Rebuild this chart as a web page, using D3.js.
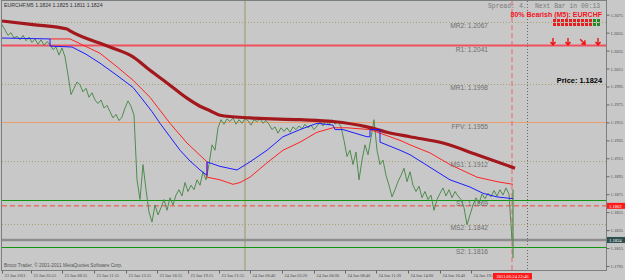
<!DOCTYPE html>
<html>
<head>
<meta charset="utf-8">
<script src="https://cdn.jsdelivr.net/npm/d3@7"></script>
<style>
  body { margin: 0; background: #c8c8c8; }
  svg { display: block; font-family: "Liberation Sans", Arial, sans-serif; }
</style>
</head>
<body>
<div id="chart-area"></div>
<script>
// EURCHF M5 closes, one value every 3 bars (bar 0 .. bar 510)
const closeStep = 3
const closes = [
  1.2064, 1.2058, 1.2052, 1.2055, 1.2049, 1.2051, 1.2047, 1.2052, 1.2046, 1.2050,
  1.2044, 1.2048, 1.2042, 1.2047, 1.2041, 1.2045, 1.2042, 1.2036, 1.2039, 1.2030,
  1.2038, 1.2028, 1.2008, 1.1986, 1.1993, 1.2000, 1.1997, 1.1989, 1.1993, 1.1983,
  1.1988, 1.1980, 1.1976, 1.1980, 1.1971, 1.1974, 1.1967, 1.1960, 1.1964, 1.1957,
  1.1961, 1.1971, 1.1979, 1.1973, 1.1963, 1.1891, 1.1869, 1.1908, 1.1880, 1.1855,
  1.1844, 1.1863, 1.1852, 1.1860, 1.1869, 1.1857, 1.1871, 1.1863, 1.1874, 1.1880,
  1.1873, 1.1888, 1.1878, 1.1885, 1.1880, 1.1891, 1.1885, 1.1900, 1.1891, 1.1908,
  1.1930, 1.1924, 1.1949, 1.1958, 1.1953, 1.1959, 1.1956, 1.1960, 1.1953, 1.1958,
  1.1954, 1.1959, 1.1957, 1.1952, 1.1958, 1.1956, 1.1959, 1.1954, 1.1957, 1.1953,
  1.1947, 1.1950, 1.1943, 1.1949, 1.1945, 1.1949, 1.1944, 1.1950, 1.1947, 1.1951,
  1.1948, 1.1953, 1.1949, 1.1952, 1.1947, 1.1951, 1.1956, 1.1951, 1.1957, 1.1952,
  1.1958, 1.1953, 1.1956, 1.1950, 1.1935, 1.1917, 1.1924, 1.1908, 1.1922, 1.1891,
  1.1913, 1.1930, 1.1919, 1.1938, 1.1958, 1.1924, 1.1908, 1.1913, 1.1896, 1.1885,
  1.1872, 1.1880, 1.1889, 1.1896, 1.1904, 1.1889, 1.1900, 1.1885, 1.1878, 1.1884,
  1.1871, 1.1878, 1.1869, 1.1874, 1.1857, 1.1869, 1.1876, 1.1882, 1.1873, 1.1880,
  1.1871, 1.1878, 1.1873, 1.1869, 1.1860, 1.1841, 1.1852, 1.1863, 1.1871, 1.1865,
  1.1875, 1.1870, 1.1876, 1.1872, 1.1879, 1.1873, 1.1880, 1.1874, 1.1882, 1.1875,
  1.1824
]
// live bar: high, low
const lastBarRange = [1.1880, 1.1804]

// moving averages (bar index + value)
const fastBars = [0, 48, 48, 70, 84, 98, 113, 131, 141, 150, 158, 168, 178, 188, 198, 205, 205, 218, 235, 248,
  265, 281, 298, 315, 331, 333, 341, 365, 368, 368, 378, 378, 398, 408, 428, 448, 468, 481, 495, 511]
const fastVals = [1.2049, 1.2048, 1.2040, 1.2039, 1.2031, 1.2021, 1.2009, 1.1994, 1.1980, 1.1967,
  1.1954, 1.1939, 1.1924, 1.1912, 1.1902, 1.1896, 1.1911, 1.1906, 1.1902, 1.1911,
  1.1924, 1.1939, 1.1947, 1.1954, 1.1952, 1.1947, 1.1947, 1.1939, 1.1939, 1.1947,
  1.1947, 1.1933, 1.1924, 1.1919, 1.1905, 1.1891, 1.1883, 1.1876, 1.1872, 1.1870]

const midBars = [48, 68, 85, 98, 115, 131, 148, 168, 185, 205, 205, 218, 231, 238, 248, 265, 281, 298, 315, 331,
  345, 368, 378, 398, 408, 428, 448, 475, 495, 511]
const midVals = [1.2048, 1.2048, 1.2039, 1.2032, 1.2017, 1.2002, 1.1983, 1.1954, 1.1932, 1.1911,
  1.1894, 1.1891, 1.1886, 1.1888, 1.1894, 1.1910, 1.1924, 1.1933, 1.1944, 1.1949,
  1.1949, 1.1947, 1.1943, 1.1935, 1.1930, 1.1921, 1.1908, 1.1894, 1.1889, 1.1886]

const slowBars = [0, 31, 65, 68, 108, 131, 148, 165, 185, 198, 208, 218, 248, 298, 331, 365, 385, 408, 441, 475, 513]
const slowVals = [1.2068, 1.2064, 1.2059, 1.2057, 1.2039, 1.2028, 1.2013, 1.1999, 1.1982, 1.1973,
  1.1968, 1.1963, 1.1960, 1.1958, 1.1956, 1.1950, 1.1944, 1.1939, 1.1932, 1.1919, 1.1904]

// pivot levels
const pivotNames = ["MR2", "R1", "MR1", "FPV", "MS1", "S1", "MS2", "S2"]
const pivotVals = [1.2067, 1.2041, 1.1998, 1.1955, 1.1912, 1.1869, 1.1842, 1.1816]
const pivotKinds = ["mid", "res", "mid", "pivot", "mid", "sup", "mid", "sup"]

// axes
const priceTicks = [1.2075, 1.2055, 1.2035, 1.2015, 1.1995, 1.1975, 1.1955, 1.1935,
  1.1915, 1.1895, 1.1875, 1.1855, 1.1835, 1.1815, 1.1795]
const timeBars = [0, 29, 60, 92, 124, 155, 186, 217, 248, 280, 312, 343, 374, 406, 438, 469]
const timeLabels = ["23 Jun 2011", "23 Jun 05:55", "23 Jun 08:35", "23 Jun 11:15", "23 Jun 13:55",
  "23 Jun 16:35", "23 Jun 19:15", "23 Jun 21:55", "24 Jun 00:40", "24 Jun 03:20", "24 Jun 06:00",
  "24 Jun 08:40", "24 Jun 11:20", "24 Jun 14:00", "24 Jun 16:40", "24 Jun 19:20"]

const daySeparatorBar = 243
const currentBar = 510
const shiftBar = 525
const bidPrice = 1.1824
const markPrice = 1.1862
const currentTime = "2011.06.24 22:46"

// signal panel
const signalCells = ["bear", "bear", "bear", "bear", "bear", "bear", "bear", "bear", "bear", "bear", "bull", "bull"]
const signalArrows = ["down", "down", "downright", "down"]

class PriceChart {
  constructor(_parentElement) {
    this.parentElement = _parentElement
    this.initVis()
  }

  initVis() {
    const vis = this

    vis.WIDTH = 625
    vis.HEIGHT = 280
    vis.PLOT = { LEFT: 2, RIGHT: 606, TOP: 1, BOTTOM: 270 }

    vis.svg = d3.select(vis.parentElement)
      .append("svg")
      .attr("width", vis.WIDTH)
      .attr("height", vis.HEIGHT)

    vis.svg.append("rect")
      .attr("width", vis.WIDTH)
      .attr("height", vis.HEIGHT)
      .attr("fill", "#c8c8c8")

    vis.svg.append("clipPath").attr("id", "plot-clip")
      .append("rect")
      .attr("x", vis.PLOT.LEFT)
      .attr("y", vis.PLOT.TOP)
      .attr("width", vis.PLOT.RIGHT - vis.PLOT.LEFT)
      .attr("height", vis.PLOT.BOTTOM - vis.PLOT.TOP)

    vis.x = d3.scaleLinear().domain([0, 604]).range([vis.PLOT.LEFT, vis.PLOT.RIGHT])
    vis.y = d3.scaleLinear().domain([1.1795, 1.2075]).range([266, 14.7])

    vis.plot = vis.svg.append("g").attr("clip-path", "url(#plot-clip)")

    vis.updateVis()
  }

  updateVis() {
    const vis = this
    const P = vis.PLOT

    // day separator
    vis.plot.append("line")
      .attr("x1", vis.x(daySeparatorBar)).attr("x2", vis.x(daySeparatorBar))
      .attr("y1", P.TOP).attr("y2", P.BOTTOM)
      .attr("stroke", "#a9a88a").attr("stroke-width", 1.5)

    // pivot lines
    const pivotStyle = {
      mid: { stroke: "#a8a070", width: 1, dash: "1,2" },
      res: { stroke: "#f0505e", width: 2, dash: null },
      pivot: { stroke: "#eb9f6e", width: 1, dash: null },
      sup: { stroke: "#129612", width: 1.2, dash: null }
    }
    vis.plot.selectAll(".pivot")
      .data(pivotVals)
      .join("line")
      .attr("class", "pivot")
      .attr("x1", P.LEFT).attr("x2", P.RIGHT)
      .attr("y1", d => Math.round(vis.y(d)) + 0.5)
      .attr("y2", d => Math.round(vis.y(d)) + 0.5)
      .attr("stroke", (d, i) => pivotStyle[pivotKinds[i]].stroke)
      .attr("stroke-width", (d, i) => pivotStyle[pivotKinds[i]].width)
      .attr("stroke-dasharray", (d, i) => pivotStyle[pivotKinds[i]].dash)

    // bid line and mark line
    vis.plot.append("line")
      .attr("x1", P.LEFT).attr("x2", P.RIGHT)
      .attr("y1", vis.y(bidPrice)).attr("y2", vis.y(bidPrice))
      .attr("stroke", "#8e8e8e").attr("stroke-width", 2.5)
    vis.plot.append("line")
      .attr("x1", P.LEFT).attr("x2", P.RIGHT)
      .attr("y1", vis.y(markPrice)).attr("y2", vis.y(markPrice))
      .attr("stroke", "#f04a3a").attr("stroke-width", 1)
      .attr("stroke-dasharray", "5,3")

    // pivot labels
    vis.svg.selectAll(".pivot-label")
      .data(pivotVals)
      .join("text")
      .attr("class", "pivot-label")
      .attr("x", vis.x(currentBar - 24))
      .attr("y", d => vis.y(d) + 6.5)
      .attr("text-anchor", "end")
      .attr("font-size", "6.6px")
      .attr("fill", "#6e6e6e")
      .text((d, i) => `${pivotNames[i]}: ${d.toFixed(4)}`)

    // current bar / shift markers
    vis.plot.append("line")
      .attr("x1", vis.x(currentBar)).attr("x2", vis.x(currentBar))
      .attr("y1", P.TOP).attr("y2", P.BOTTOM)
      .attr("stroke", "#f46060").attr("stroke-width", 1)
      .attr("stroke-dasharray", "5,3")
    vis.plot.append("line")
      .attr("x1", vis.x(shiftBar) + 0.5).attr("x2", vis.x(shiftBar) + 0.5)
      .attr("y1", P.TOP).attr("y2", P.BOTTOM)
      .attr("stroke", "#6a6a6a").attr("stroke-width", 1)
      .attr("stroke-dasharray", "1,2")

    // price line
    const priceLine = d3.line()
      .x((d, i) => vis.x(i * closeStep))
      .y(d => vis.y(d))
    vis.plot.append("path")
      .datum(closes)
      .attr("d", priceLine)
      .attr("fill", "none")
      .attr("stroke", "#4f8c4f")
      .attr("stroke-width", 1)
    vis.plot.append("line")
      .attr("x1", vis.x(currentBar) + 1).attr("x2", vis.x(currentBar) + 1)
      .attr("y1", vis.y(lastBarRange[0])).attr("y2", vis.y(lastBarRange[1]))
      .attr("stroke", "#4f8c4f").attr("stroke-width", 1.2)

    // moving averages
    const maLine = d3.line()
      .x(d => vis.x(d[0]))
      .y(d => vis.y(d[1]))
    const mas = [
      { bars: slowBars, vals: slowVals, color: "#a3181c", width: 3.2, curve: d3.curveMonotoneX },
      { bars: midBars, vals: midVals, color: "#ff2222", width: 1, curve: d3.curveLinear },
      { bars: fastBars, vals: fastVals, color: "#1c1cff", width: 1, curve: d3.curveLinear }
    ]
    mas.forEach(ma => {
      vis.plot.append("path")
        .datum(d3.zip(ma.bars, ma.vals))
        .attr("d", maLine.curve(ma.curve))
        .attr("fill", "none")
        .attr("stroke", ma.color)
        .attr("stroke-width", ma.width)
        .attr("stroke-linejoin", "round")
    })

    // frame
    vis.svg.append("rect")
      .attr("x", P.LEFT - 0.5).attr("y", P.TOP - 0.5)
      .attr("width", P.RIGHT - P.LEFT + 1).attr("height", P.BOTTOM - P.TOP + 1)
      .attr("fill", "none").attr("stroke", "#7a7f80").attr("stroke-width", 1)

    // right price axis
    vis.yAxisCall = d3.axisRight(vis.y)
      .tickValues(priceTicks)
      .tickSize(3)
      .tickPadding(1)
      .tickFormat(d3.format(".4f"))
    vis.yAxis = vis.svg.append("g")
      .attr("transform", `translate(${P.RIGHT + 0.5}, 0)`)
      .call(vis.yAxisCall)
    vis.yAxis.select(".domain").remove()
    vis.yAxis.selectAll("line").attr("stroke", "#666")
    vis.yAxis.selectAll("text")
      .attr("font-size", "4.6px")
      .attr("font-family", "Liberation Serif, serif")
      .attr("fill", "#4a4a4a")

    // bottom time axis
    vis.xAxisCall = d3.axisBottom(vis.x)
      .tickValues(timeBars)
      .tickSize(3)
      .tickFormat((d, i) => timeLabels[i])
    vis.xAxis = vis.svg.append("g")
      .attr("transform", `translate(0, ${P.BOTTOM + 0.5})`)
      .call(vis.xAxisCall)
    vis.xAxis.select(".domain").remove()
    vis.xAxis.selectAll("line").attr("stroke", "#666")
    vis.xAxis.selectAll("text")
      .attr("text-anchor", "start")
      .attr("dx", "2px")
      .attr("dy", "0.2em")
      .attr("font-size", "4.4px")
      .attr("font-family", "Liberation Serif, serif")
      .attr("fill", "#4a4a4a")

    // price boxes on the right axis
    const boxes = [
      { v: markPrice, fill: "#ff1a1a" },
      { v: bidPrice, fill: "#2f4f4f" }
    ]
    boxes.forEach(b => {
      vis.svg.append("rect")
        .attr("x", P.RIGHT + 1).attr("y", vis.y(b.v) - 3)
        .attr("width", 19).attr("height", 6)
        .attr("fill", b.fill)
      vis.svg.append("text")
        .attr("x", P.RIGHT + 3).attr("y", vis.y(b.v) + 1.7)
        .attr("font-size", "4.6px")
        .attr("font-family", "Liberation Serif, serif")
        .attr("fill", "#fff")
        .text(b.v.toFixed(4))
    })

    // current time box
    vis.svg.append("rect")
      .attr("x", vis.x(currentBar) - 19).attr("y", P.BOTTOM + 3)
      .attr("width", 39).attr("height", 6.5)
      .attr("fill", "#ff1a1a")
    vis.svg.append("text")
      .attr("x", vis.x(currentBar) + 0.5).attr("y", P.BOTTOM + 8)
      .attr("text-anchor", "middle")
      .attr("font-size", "4.6px")
      .attr("font-family", "Liberation Serif, serif")
      .attr("fill", "#fff")
      .text(currentTime)

    // header texts
    vis.svg.append("text")
      .attr("x", 4).attr("y", 7)
      .attr("font-size", "5.2px")
      .attr("fill", "#333")
      .text("EURCHF,M5  1.1824 1.1825 1.1811 1.1824")

    const mono = vis.svg.append("g")
      .attr("font-family", "Liberation Mono, Courier New, monospace")
      .attr("font-size", "6.4px")
      .attr("fill", "#7a7a7a")
    mono.append("text").attr("x", 488).attr("y", 8).text("Spread:")
    mono.append("text").attr("x", 519).attr("y", 8).text("4.")
    mono.append("text").attr("x", 535).attr("y", 8).text("Next Bar in 00:13")

    vis.svg.append("text")
      .attr("x", 602).attr("y", 16.5)
      .attr("text-anchor", "end")
      .attr("font-size", "7px")
      .attr("font-weight", "bold")
      .attr("fill", "#f0141e")
      .text("80% Bearish (M5): EURCHF")

    // signal cells
    vis.svg.selectAll(".cell")
      .data(signalCells.flatMap(c => [c, c]))
      .join("rect")
      .attr("class", "cell")
      .attr("x", (d, i) => 553 + Math.floor(i / 2) * 4)
      .attr("y", (d, i) => 19 + (i % 2) * 4)
      .attr("width", 3).attr("height", 3)
      .attr("fill", d => d === "bear" ? "#ea1c1c" : "#1f8a1f")

    // signal arrows
    const arrows = vis.svg.selectAll(".arrow")
      .data(signalArrows)
      .join("g")
      .attr("class", "arrow")
      .attr("transform", (d, i) => `translate(${553 + i * 15}, 42) rotate(${d === "downright" ? -45 : 0})`)
    arrows.append("path")
      .attr("d", "M0,-4V2.5M-2.5,0L0,3L2.5,0")
      .attr("fill", "none")
      .attr("stroke", "#f01010")
      .attr("stroke-width", 1.4)

    vis.svg.append("text")
      .attr("x", 602).attr("y", 83)
      .attr("text-anchor", "end")
      .attr("font-size", "7.4px")
      .attr("font-weight", "bold")
      .attr("fill", "#000")
      .text(`Price: ${bidPrice.toFixed(4)}`)

    vis.svg.append("text")
      .attr("x", 4).attr("y", 267)
      .attr("font-size", "4.8px")
      .attr("fill", "#555")
      .text("Broco Trader, © 2001-2011 MetaQuotes Software Corp.")
  }
}

new PriceChart("#chart-area")
</script>
</body>
</html>
